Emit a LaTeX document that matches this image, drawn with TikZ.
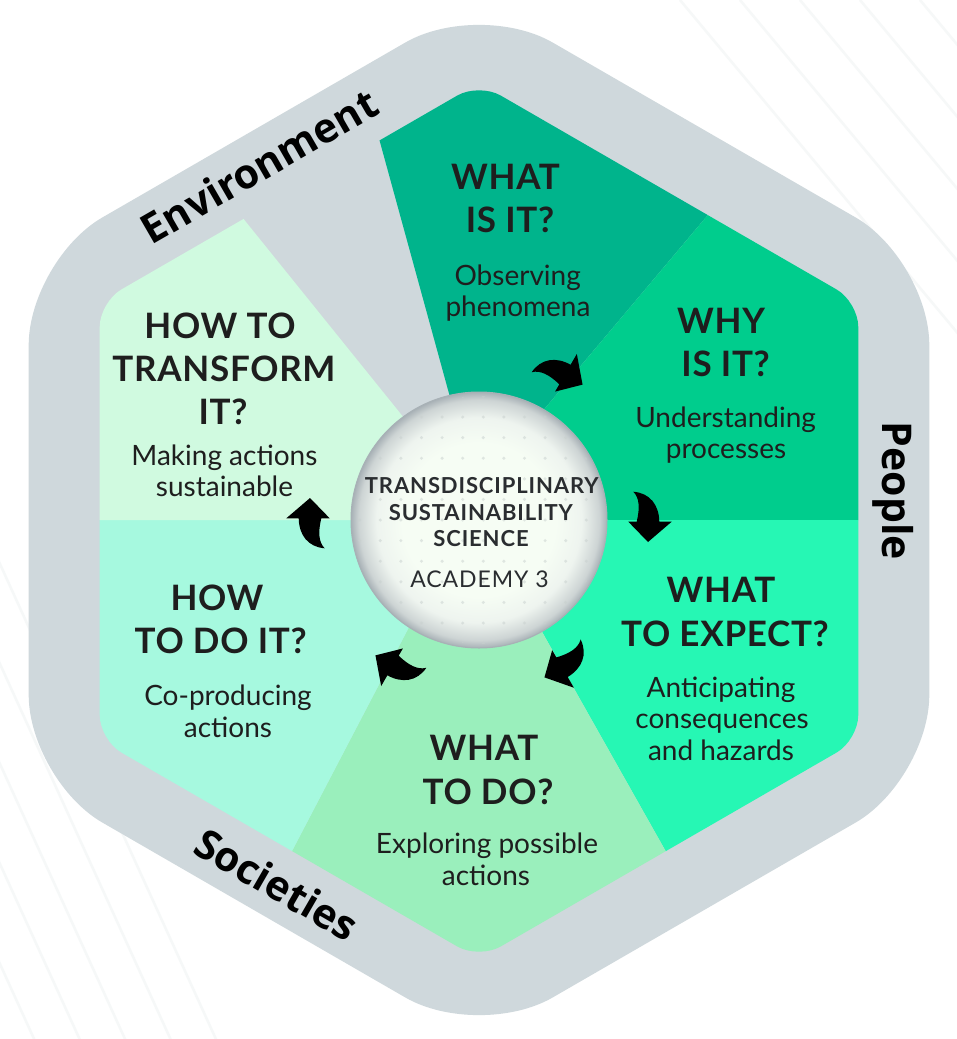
\documentclass[tikz,border=0pt]{standalone}
\usepackage{fontspec}
\setmainfont{Lato}
\newfontfamily\lblfont{Open Sans}
\newfontfamily\ttlfont[LetterSpace=2]{Lato}
\newfontfamily\ctrfont[LetterSpace=4]{Lato}
\definecolor{outergray}{HTML}{CFD8DC}
\definecolor{secA}{HTML}{00B48C}
\definecolor{secB}{HTML}{00CD8D}
\definecolor{secC}{HTML}{26F7B4}
\definecolor{secD}{HTML}{9AEFBC}
\definecolor{secE}{HTML}{A6F9DF}
\definecolor{secF}{HTML}{D0FAE0}
\definecolor{textdark}{HTML}{1E1E1E}
\definecolor{ctrtext}{HTML}{2A2D30}
\definecolor{stripec}{HTML}{F6F8F8}
\definecolor{orbin}{HTML}{F6FDF4}
\definecolor{orbmid}{HTML}{EEF4EF}
\definecolor{orbedge}{HTML}{CDD4D4}
\definecolor{orbrim}{HTML}{A8B1B6}
\definecolor{dotc}{HTML}{C8D0CE}
\pgfdeclareradialshading{orb}{\pgfpoint{0bp}{0bp}}{color(0bp)=(orbin); color(15bp)=(orbin); color(20bp)=(orbmid); color(23.5bp)=(orbedge); color(25bp)=(orbrim); color(50bp)=(orbrim)}
\newcommand{\cyclearrow}{\fill[black] (633.3,491.7) .. controls (650,493) and (659,505) .. (659.3,521.7) -- (671.7,521.7) -- (648,542) -- (628.3,521.7) -- (636.7,521.7) .. controls (640,508) and (639.5,498) .. (633.3,491.7) -- cycle;}
\begin{document}
\begin{tikzpicture}[x=1pt,y=-1pt,
  ttl/.style={anchor=base, inner sep=0pt, text=textdark, font=\ttlfont\bfseries\fontsize{35}{40}\selectfont},
  sub/.style={anchor=base, inner sep=0pt, text=textdark, font=\fontsize{28}{32}\selectfont},
  ctrt/.style={anchor=base, inner sep=0pt, text=ctrtext, font=\ctrfont\bfseries\fontsize{22}{26}\selectfont},
  acad/.style={anchor=base, inner sep=0pt, text=ctrtext, font=\ctrfont\fontsize{23}{27}\selectfont},
  lbl/.style={inner sep=0pt, text=black, font=\lblfont\bfseries\fontsize{41}{48}\selectfont},
  stripe/.style={draw=stripec, line width=2.5pt}]
\useasboundingbox (0,0) rectangle (957,1039);
\fill[white] (0,0) rectangle (957,1039);
% faint background stripes
\foreach \s in {680,740,800,860,920} \draw[stripe] (\s,0) -- ++(300,360);
\foreach \s in {520,620,720,820,920} \draw[stripe] (-20,\s) -- ++(250,550);
% outer hexagon band
\fill[outergray, rounded corners=85pt] (479,0) -- (929.3,260) -- (929.3,780) -- (479,1040) -- (28.7,780) -- (28.7,260) -- cycle;
% sectors
\begin{scope}
\clip[rounded corners=25pt] (479,83) -- (858.3,302) -- (858.3,740) -- (479,959) -- (99.7,740) -- (99.7,302) -- cycle;
\fill[secA] (470,470) -- (341,0) -- (889,0) -- (493,470) -- cycle;
\fill[secB] (493,470) -- (889,0) -- (1000,0) -- (1000,520) -- (479,520) -- cycle;
\fill[secC] (479,520) -- (1000,520) -- (1000,1100) -- (806,1100) -- cycle;
\fill[secD] (479,520) -- (806,1100) -- (162,1100) -- (465,520) -- cycle;
\fill[secE] (465,520) -- (162,1100) -- (-50,1100) -- (-50,520) -- cycle;
\fill[secF] (446,470) -- (67,0) -- (-50,0) -- (-50,520) -- (479,520) -- cycle;
\end{scope}
\coordinate (ctr) at (479,520);
% arrows
\begin{scope}[rotate around={60:(ctr)}]\cyclearrow\end{scope}
\begin{scope}\cyclearrow\end{scope}
\begin{scope}[rotate around={-60:(ctr)}]\cyclearrow\end{scope}
\begin{scope}[rotate around={-120:(ctr)}]\cyclearrow\end{scope}
\begin{scope}[rotate around={-180:(ctr)}]\cyclearrow\end{scope}
% central orb
\shade[shading=orb] (ctr) circle (128pt);
\begin{scope}
\clip (ctr) circle (124pt);
\foreach \i in {-6,...,6} \foreach \j in {-6,...,6} {\fill[dotc, opacity=0.5] (483.3+20.6*\i, 520+20.6*\j) circle (1.7pt);}
\end{scope}
\draw[orbrim, line width=1pt] (ctr) circle (128pt);
\node[ctrt] (c1) at (481.7,493) {TRANSDISCIPLINARY};
\node[ctrt] (c2) at (480.8,520) {SUSTAINABILITY};
\node[ctrt] (c3) at (481,546) {SCIENCE};
\node[acad] (c4) at (479.5,587.5) {ACADEMY 3};
% sector texts
\node[ttl] (a1) at (505.5,189) {WHAT};
\node[ttl] (a2) at (510,232) {IS IT?};
\node[sub] (a3) at (517.7,285) {Observing};
\node[sub] (a4) at (518,316) {phenomena};
\node[ttl] (b1) at (721,333.3) {WHY};
\node[ttl] (b2) at (725.6,376) {IS IT?};
\node[sub] (b3) at (725.6,427) {Understanding};
\node[sub] (b4) at (726,458) {processes};
\node[ttl] (d1) at (721,602.7) {WHAT};
\node[ttl] (d2) at (725,646) {TO EXPECT?};
\node[sub] (d3) at (721,697) {Anticipating};
\node[sub] (d4) at (722,728.5) {consequences};
\node[sub] (d5) at (721,760) {and hazards};
\node[ttl] (e1) at (484,760.7) {WHAT};
\node[ttl] (e2) at (488,804) {TO DO?};
\node[sub] (e3) at (487,853.3) {Exploring possible};
\node[sub] (e4) at (486,885) {actions};
\node[ttl] (f1) at (217,610.7) {HOW};
\node[ttl] (f2) at (220.7,653.3) {TO DO IT?};
\node[sub] (f3) at (228,705) {Co-producing};
\node[sub] (f4) at (228,737) {actions};
\node[ttl] (g1) at (220,338) {HOW TO};
\node[ttl] (g2) at (224,381.7) {TRANSFORM};
\node[ttl] (g3) at (223,424) {IT?};
\node[sub] (g4) at (224.4,465) {Making actions};
\node[sub] (g5) at (224.5,496) {sustainable};
% band labels
\node[lbl, rotate=30] (env) at (259,166) {Environment};
\node[lbl, rotate=-30] (soc) at (277,884) {Societies};
\node[lbl, rotate=-90] (ppl) at (893,491) {People};
\end{tikzpicture}
\end{document}
